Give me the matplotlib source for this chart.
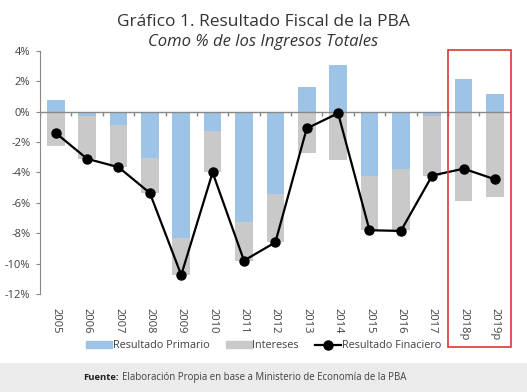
import numpy as np
import matplotlib.pyplot as plt
from matplotlib.patches import Rectangle, Patch
from matplotlib.lines import Line2D
import matplotlib.transforms as mtransforms

plt.rcParams['font.family'] = ['Open Sans', 'DejaVu Sans']

# datos (% de los ingresos totales)
anios = ['2005', '2006', '2007', '2008', '2009', '2010', '2011', '2012',
         '2013', '2014', '2015', '2016', '2017', '2018p', '2019p']
primario = [0.8, -0.3, -0.9, -3.05, -8.3, -1.25, -7.25, -5.4,
            1.65, 3.05, -4.2, -3.8, -0.25, 2.15, 1.15]
intereses = [2.25, 2.8, 2.75, 2.3, 2.45, 2.75, 2.55, 3.2,
             2.75, 3.15, 3.6, 4.0, 3.95, 5.9, 5.6]
financiero = [-1.4, -3.1, -3.65, -5.35, -10.75, -4.0, -9.8, -8.6,
              -1.1, -0.1, -7.8, -7.85, -4.2, -3.75, -4.45]

azul = '#9DC3E6'
gris = '#C9C9C9'
eje = '#888888'
texto = '#404040'

fig = plt.figure(figsize=(5.27, 3.92), dpi=100)
ax = fig.add_axes([0.076, 0.25, 0.893, 0.62])

x = np.arange(len(anios))
prim = np.array(primario)
base_int = np.minimum(prim, 0)

ax.bar(x, prim, width=0.56, color=azul, zorder=2)
ax.bar(x, -np.array(intereses), bottom=base_int, width=0.56, color=gris, zorder=2)
ax.plot(x, financiero, color='black', lw=1.6, marker='o', markersize=6.5, zorder=4)

ax.set_xlim(-0.5, len(anios) - 0.5)
ax.set_ylim(-12, 4)
ax.set_yticks(np.arange(-12, 5, 2))
ax.set_yticklabels([f'{v}%' for v in range(-12, 5, 2)])

# eje x en el 0 con marcas entre categorias
ax.axhline(0, color=eje, lw=1, zorder=3)
ax.vlines(np.arange(-0.5, len(anios)), 0, -0.25, color=eje, lw=1, zorder=3)

ax.set_xticks(x)
ax.set_xticklabels(anios, rotation=-90)
ax.tick_params(axis='x', length=0, pad=10, labelsize=8, labelcolor=texto)
ax.tick_params(axis='y', length=3, color=eje, pad=4, labelsize=8, labelcolor=texto)

for s in ['top', 'right', 'bottom']:
    ax.spines[s].set_visible(False)
ax.spines['left'].set_color(eje)

# recuadro rojo de las proyecciones
trans = mtransforms.blended_transform_factory(ax.transData, ax.transAxes)
ax.add_patch(Rectangle((12.5, -0.217), 2.0, 1.221, transform=trans,
                       fill=False, edgecolor='#D9383A', lw=1.2, clip_on=False, zorder=5))

fig.text(0.5, 0.945, 'Gráfico 1. Resultado Fiscal de la PBA', ha='center', va='center',
         fontsize=12.5, color='#333333')
fig.text(0.5, 0.893, 'Como % de los Ingresos Totales', ha='center', va='center',
         fontsize=12, style='italic', color='#333333')

handles = [Patch(color=azul), Patch(color=gris),
           Line2D([], [], color='black', lw=1.6, marker='o', markersize=6.5)]
fig.legend(handles, ['Resultado Primario', 'Intereses', 'Resultado Finaciero'],
           loc='center', bbox_to_anchor=(0.5, 0.118), ncol=3, frameon=False,
           fontsize=7.8, labelcolor=texto, handlelength=2.4, handleheight=0.6,
           handletextpad=0.05, columnspacing=1.5)

# franja de la fuente
fig.patches.append(Rectangle((0, 0), 1, 0.073, transform=fig.transFigure,
                             facecolor='#EBEBEB', edgecolor='none', zorder=0))
fig.text(0.157, 0.036, 'Fuente:', fontsize=6.8, fontweight='bold', va='center', color='#222222')
fig.text(0.232, 0.036, 'Elaboración Propia en base a Ministerio de Economía de la PBA',
         fontsize=6.9, va='center', color=texto)

fig.savefig('out.png', dpi=100)
